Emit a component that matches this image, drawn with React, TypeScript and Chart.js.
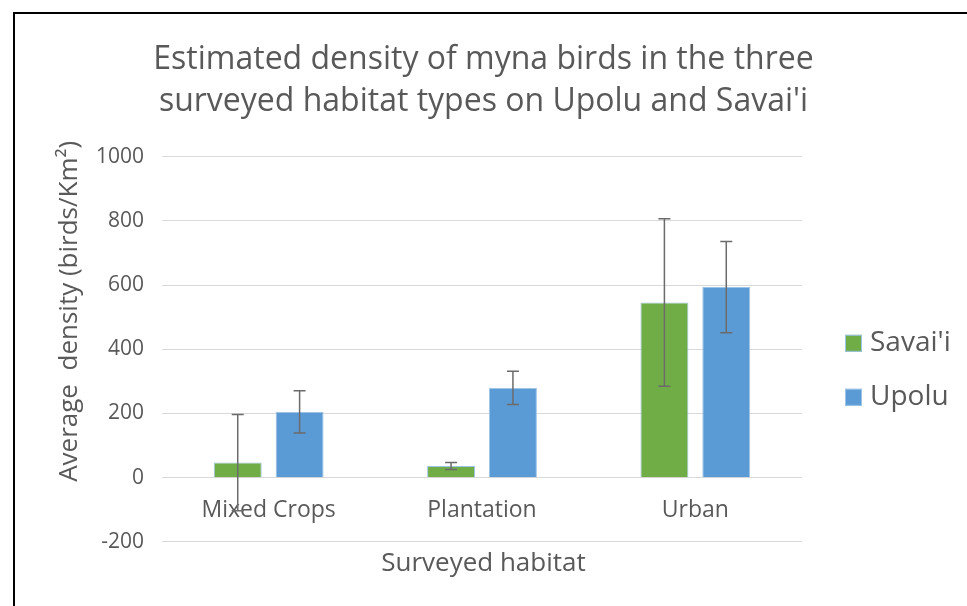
import React, { useEffect, useRef } from "react";
import { Chart, registerables } from "chart.js";

Chart.register(...registerables);

const categories = ["Mixed Crops", "Plantation", "Urban"];
const seriesNames = ["Savai'i", "Upolu"];
const savaiiMeans = [47, 36, 546];
const savaiiErrors = [150, 11, 261];
const upoluMeans = [205, 280, 594];
const upoluErrors = [66, 52, 142];
const yMin = -200;
const yMax = 1000;
const yStep = 200;
const titleLines = [
  "Estimated density of myna birds in the three",
  "surveyed habitat types on Upolu and Savai'i",
];
const yTitle = "Average  density (birds/Km\u00B2)";
const xTitle = "Surveyed habitat";

const FONT = "'Open Sans', sans-serif";
const TEXT = "#595959";
const GREEN = "#70ad47";
const BLUE = "#5b9bd5";
const EDGE = "#9dc3e6";
const GRID = "#d9d9d9";

const errorBarPlugin = {
  id: "errorBars",
  afterDatasetsDraw(chart: any) {
    const ctx = chart.ctx;
    const y = chart.scales.y;
    chart.data.datasets.forEach((ds: any, di: number) => {
      const meta = chart.getDatasetMeta(di);
      meta.data.forEach((bar: any, i: number) => {
        const v = ds.data[i];
        const e = ds.errors[i];
        const x = bar.x;
        const yHi = y.getPixelForValue(v + e);
        const yLo = y.getPixelForValue(v - e);
        ctx.save();
        ctx.strokeStyle = "#6b6b6b";
        ctx.lineWidth = 1.5;
        ctx.beginPath();
        ctx.moveTo(x, yHi);
        ctx.lineTo(x, yLo);
        ctx.moveTo(x - 6, yHi);
        ctx.lineTo(x + 6, yHi);
        ctx.moveTo(x - 6, yLo);
        ctx.lineTo(x + 6, yLo);
        ctx.stroke();
        ctx.restore();
      });
    });
  },
};

const sidePlugin = {
  id: "sideText",
  afterDraw(chart: any) {
    const ctx = chart.ctx;
    const area = chart.chartArea;
    ctx.save();
    // y-axis title
    ctx.fillStyle = TEXT;
    ctx.font = `26px ${FONT}`;
    ctx.textAlign = "center";
    ctx.textBaseline = "middle";
    ctx.translate(70, (area.top + area.bottom) / 2 - 38);
    ctx.rotate(-Math.PI / 2);
    ctx.fillText(yTitle, 0, 0);
    ctx.restore();

    // legend
    ctx.save();
    const cy = (area.top + area.bottom) / 2 + 21;
    const colors = [GREEN, BLUE];
    seriesNames.forEach((name, i) => {
      const yc = cy + (i === 0 ? -27 : 27);
      const bx = area.right + 43;
      ctx.fillStyle = colors[i];
      ctx.fillRect(bx, yc - 8.5, 17, 17);
      ctx.strokeStyle = EDGE;
      ctx.lineWidth = 1;
      ctx.strokeRect(bx + 0.5, yc - 8, 16, 16);
      ctx.fillStyle = TEXT;
      ctx.font = `28px ${FONT}`;
      ctx.textAlign = "left";
      ctx.textBaseline = "middle";
      ctx.fillText(name, bx + 25, yc);
    });
    ctx.restore();
  },
};

export default function App() {
  const ref = useRef<HTMLCanvasElement | null>(null);

  useEffect(() => {
    if (!ref.current) return;
    const chart = new Chart(ref.current, {
      type: "bar",
      data: {
        labels: categories,
        datasets: [
          {
            label: seriesNames[0],
            data: savaiiMeans,
            errors: savaiiErrors,
            backgroundColor: GREEN,
            borderColor: EDGE,
            borderWidth: 1,
            categoryPercentage: 0.58,
            barPercentage: 0.775,
          } as any,
          {
            label: seriesNames[1],
            data: upoluMeans,
            errors: upoluErrors,
            backgroundColor: BLUE,
            borderColor: EDGE,
            borderWidth: 1,
            categoryPercentage: 0.58,
            barPercentage: 0.775,
          } as any,
        ],
      },
      options: {
        animation: false,
        responsive: false,
        devicePixelRatio: 1,
        layout: { padding: { left: 0, right: 0, top: 12, bottom: 0 } },
        plugins: {
          legend: { display: false },
          tooltip: { enabled: false },
          title: {
            display: true,
            text: titleLines,
            color: TEXT,
            font: { family: FONT, size: 32, weight: "normal", lineHeight: 1.31 },
            padding: { top: 27, bottom: 34 },
          },
          subtitle: {
            display: true,
            position: "bottom",
            text: xTitle,
            color: TEXT,
            font: { family: FONT, size: 26, weight: "normal", lineHeight: 1.2 },
            padding: { top: 6, bottom: 27 },
          },
        },
        scales: {
          x: {
            position: { y: 0 } as any,
            grid: { display: false, drawTicks: false },
            border: { display: false },
            ticks: {
              color: TEXT,
              font: { family: FONT, size: 23 },
              padding: 19,
              maxRotation: 0,
            },
          },
          y: {
            min: yMin,
            max: yMax,
            afterFit: (s: any) => {
              s.width = 162;
            },
            ticks: {
              stepSize: yStep,
              color: TEXT,
              font: { family: FONT, size: 21 },
              padding: 18,
              callback: (v: any) => String(v),
            },
            grid: { color: GRID, lineWidth: 1, drawTicks: false },
            border: { display: false },
          },
          yRight: {
            position: "right",
            display: true,
            min: yMin,
            max: yMax,
            afterFit: (s: any) => {
              s.width = 165;
            },
            ticks: { display: false },
            grid: { display: false, drawTicks: false },
            border: { display: false },
          },
        },
      },
      plugins: [errorBarPlugin, sidePlugin],
    } as any);
    return () => chart.destroy();
  }, []);

  return (
    <div style={{ position: "fixed", left: 0, top: 0, width: 967, height: 606, background: "#fff", overflow: "hidden" }}>
      <canvas ref={ref} width={967} height={606} style={{ display: "block" }} />
      <div
        style={{
          position: "absolute",
          left: 13,
          top: 12,
          width: 2000,
          height: 2000,
          borderLeft: "2px solid #000",
          borderTop: "2px solid #000",
          pointerEvents: "none",
        }}
      />
    </div>
  );
}
